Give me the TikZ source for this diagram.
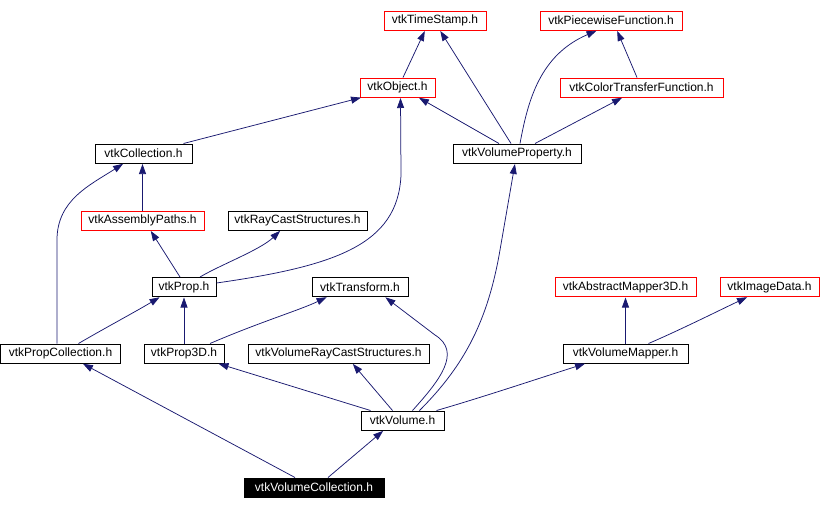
\documentclass[tikz,border=0pt]{standalone}
\usepackage{fontspec}
\setmainfont{Liberation Sans}
\usetikzlibrary{arrows.meta}
\definecolor{edgeblue}{HTML}{191970}
\begin{document}
\begin{tikzpicture}[x=1pt,y=-1pt,
  hdr/.style={draw=black, line width=1pt, fill=white, minimum height=19pt, inner sep=0pt, font=\fontsize{12}{14}\selectfont},
  redhdr/.style={hdr, draw=red},
  cur/.style={hdr, fill=black, text=white},
  dep/.style={draw=edgeblue, line width=0.75pt, -{Triangle[length=10pt,width=7pt]}, shorten >=0.5pt}]
\useasboundingbox (0,0) rectangle (821,509);
% nodes
\node[redhdr, minimum width=102pt] (ts)   at (435,20.5)   {vtkTimeStamp.h};
\node[redhdr, minimum width=142pt] (pw)   at (611,20.5)   {vtkPiecewiseFunction.h};
\node[redhdr, minimum width=75pt]  (obj)  at (397.5,87.5) {vtkObject.h};
\node[redhdr, minimum width=163pt] (ctf)  at (641.5,87.5) {vtkColorTransferFunction.h};
\node[hdr,    minimum width=97pt]  (coll) at (143.5,153.5) {vtkCollection.h};
\node[hdr,    minimum width=128pt] (vp)   at (517,153.5)  {vtkVolumeProperty.h};
\node[redhdr, minimum width=123pt] (ap)   at (142.5,220.5) {vtkAssemblyPaths.h};
\node[hdr,    minimum width=139pt] (rcs)  at (297.5,220.5) {vtkRayCastStructures.h};
\node[hdr,    minimum width=64pt]  (prop) at (184,287)    {vtkProp.h};
\node[hdr,    minimum width=96pt]  (tr)   at (360,287)    {vtkTransform.h};
\node[redhdr, minimum width=141pt] (am)   at (625.5,287)  {vtkAbstractMapper3D.h};
\node[redhdr, minimum width=99pt]  (img)  at (769.5,287)  {vtkImageData.h};
\node[hdr,    minimum width=120pt] (pc)   at (60.5,353.5) {vtkPropCollection.h};
\node[hdr,    minimum width=80pt]  (p3d)  at (184,353.5)  {vtkProp3D.h};
\node[hdr,    minimum width=181pt] (vrcs) at (338.5,353.5) {vtkVolumeRayCastStructures.h};
\node[hdr,    minimum width=125pt] (vm)   at (625.5,353.5) {vtkVolumeMapper.h};
\node[hdr,    minimum width=83pt]  (vol)  at (402.5,420.5) {vtkVolume.h};
\node[cur,    minimum width=140pt] (vc)   at (314,487.5)  {vtkVolumeCollection.h};
% edges
\draw[dep] ([xshift=5.5]obj.north) -- ([xshift=-10]ts.south);
\draw[dep] ([xshift=-6]vp.north) -- ([xshift=5]ts.south);
\draw[dep] ([xshift=3]vp.north) .. controls (528,100) and (540,55) .. ([xshift=-14]pw.south);
\draw[dep] ([xshift=-4.5]ctf.north) -- ([xshift=6]pw.south);
\draw[dep] ([xshift=-18]vp.north) -- ([xshift=21]obj.south);
\draw[dep] ([xshift=18]vp.north) -- ([xshift=-19]ctf.south);
\draw[dep] ([xshift=40]coll.north) -- ([xshift=2]obj.south west);
\draw[dep] (ap.north) -- (ap.north |- coll.south);
\draw[dep] ([xshift=-3.5]pc.north) -- (57,240) .. controls (57,200) and (90,185) .. ([xshift=-20]coll.south);
\draw[dep] ([xshift=-4]prop.north) -- ([xshift=8]ap.south);
\draw[dep] ([xshift=16]prop.north) .. controls (220,265) and (260,250) .. ([xshift=-17]rcs.south);
\draw[dep] ([yshift=4]prop.east) .. controls (335,266) and (398,245) .. (401,175) -- ([xshift=3]obj.south);
\draw[dep] ([xshift=18]pc.north) .. controls (105,328) and (135,312) .. ([xshift=-24]prop.south);
\draw[dep] (p3d.north) -- (p3d.north |- prop.south);
\draw[dep] ([xshift=26]p3d.north) .. controls (260,322) and (300,310) .. ([xshift=-33]tr.south);
\draw[dep] ([xshift=10]vol.north) .. controls (440,380) and (462,352) .. (435,335) -- ([xshift=25]tr.south);
\draw[dep] ([xshift=17]vol.north) .. controls (465,365) and (488,320) .. (500,250) -- ([xshift=-2]vp.south);
\draw[dep] ([xshift=-10]vol.north) -- ([xshift=14]vrcs.south);
\draw[dep] ([xshift=-32]vol.north) -- ([xshift=34]p3d.south);
\draw[dep] ([xshift=34]vol.north) .. controls (480,398) and (540,378) .. ([xshift=-40]vm.south);
\draw[dep] (vm.north) -- (vm.north |- am.south);
\draw[dep] ([xshift=23]vm.north) .. controls (680,330) and (720,310) .. ([xshift=-22]img.south);
\draw[dep] ([xshift=-19]vc.north) -- ([xshift=22]pc.south);
\draw[dep] ([xshift=14]vc.north) -- ([xshift=-19]vol.south);
\end{tikzpicture}
\end{document}
